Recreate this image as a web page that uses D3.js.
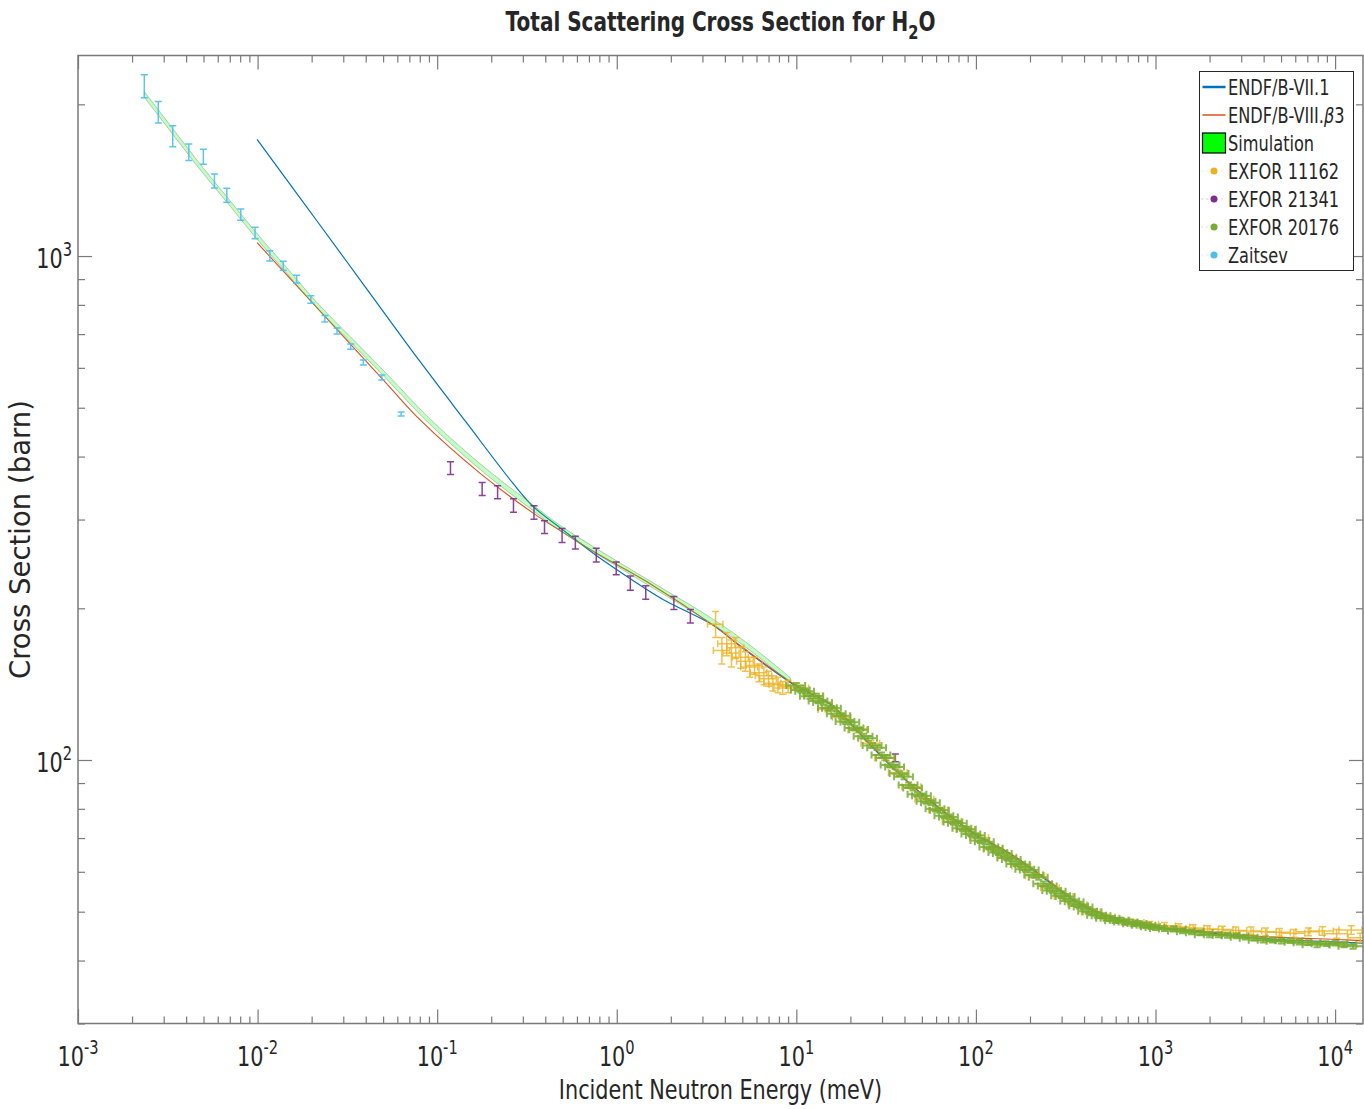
<!DOCTYPE html>
<html lang="en">
<head>
<meta charset="UTF-8">
<title>Total Scattering Cross Section for H2O</title>
<script src="https://cdnjs.cloudflare.com/ajax/libs/d3/7.8.5/d3.min.js"></script>
<style>
    body { margin: 0; background: #fff; }
    svg { display: block; }
    text { font-family: "DejaVu Sans", sans-serif; fill: #262626; }
    .frame { fill: none; stroke: #7a7a7a; stroke-width: 1.5px; }
    .tick line { stroke: #7a7a7a; stroke-width: 1.2px; }
    .domain { display: none; }
</style>
</head>
<body>
<svg id="chart" width="1364" height="1109"></svg>
<script>
// ENDF/B-VII.1 evaluation (meV, barn)
const endf71E  = [0.00993, 0.02137, 0.0406, 0.0804, 0.145, 0.266, 0.344, 0.496, 0.776, 1.19, 1.82, 3.45, 4.88, 10, 15.5, 25.8, 37.9, 59.4, 100, 156, 260, 382, 638, 1000, 1782, 3383, 10730, 14300];
const endf71XS = [1704, 1175, 860, 617, 468, 353, 318, 287, 254, 229, 208, 185, 168, 140, 129, 107, 93.3, 81.5, 71, 65, 57, 51.6, 48.1, 46.5, 45.6, 44.4, 43.5, 43.3];

// ENDF/B-VIII.beta3
const endf8E  = [0.00994, 0.0502, 0.0804, 0.1736, 0.3425, 0.495, 0.776, 1.473, 3.45, 4.88, 10, 15.5, 25.8, 37.9, 59.4, 100, 156, 260, 382, 638, 1000, 1782, 3383, 10730, 14300];
const endf8XS = [1063, 567.5, 473, 370.5, 309, 283.8, 257, 225.8, 185, 168.5, 140.5, 129, 107.5, 93.5, 81.3, 71.2, 65.2, 57.3, 51.8, 48.3, 46.7, 45.8, 44.8, 44.0, 43.8];

// simulation band
const simE    = [0.00234, 0.0030, 0.0040, 0.00478, 0.0070, 0.00968, 0.0150, 0.02137, 0.035, 0.05355, 0.0891, 0.1736, 0.344, 0.495, 0.96, 1.82, 3.46, 5.54, 9.26];
const simLow  = [2066, 1841, 1611, 1485, 1258, 1092, 912, 789, 660, 565, 467, 377, 312, 283.5, 244.5, 213.2, 185.5, 164.8, 142.3];
const simHigh = [2120, 1889, 1653, 1523, 1290, 1120, 936, 809, 676, 579, 479, 387, 320, 290.5, 250.5, 218.4, 190.1, 168.8, 145.7];

// EXFOR 11162
const exfor11162E   = [3.55, 3.85, 4.10, 4.35, 4.60, 4.90, 5.20, 5.50, 5.85, 6.20, 6.60, 7.00, 7.40, 7.90, 8.40, 9.00,
    10.5, 12.5, 15, 18, 22, 26, 31, 37, 44, 52, 62, 74, 88, 105, 125, 150, 180, 215, 260, 310,
    370, 440, 530, 640, 770, 930, 1120, 1350, 1620, 1950, 2350, 2800, 3400, 4100, 4900, 5900, 7100, 8500, 10200, 12300, 13800];
const exfor11162XS  = [186, 165, 170, 163, 167, 160, 157, 153, 154, 149, 147, 145, 142, 141, 139, 140,
    139, 134, 126, 121.5, 114.5, 108, 101, 94.5, 88.5, 83.6, 79.6, 75.6, 72.8, 70.1, 66.5, 64.2, 61.6, 58.9, 55.8, 53.6,
    51.6, 49.9, 48.8, 48.1, 47.6, 47.2, 46.9, 46.6, 46.4, 46.2, 46.1, 45.9, 45.8, 45.6, 45.5, 45.3, 45.6, 45.8, 45.2, 46.0, 44.4];
const exfor11162dE  = [0.35, 0.4, 0.45, 0.45, 0.5, 0.5, 0.55, 0.6, 0.6, 0.65, 0.7, 0.75, 0.8, 0.85, 0.9, 1.0,
    1.2, 1.5, 1.8, 2.1, 2.6, 3.1, 3.7, 4.4, 5.3, 6.2, 7.4, 8.9, 10.5, 12.6, 15, 18, 21.6, 26, 31, 37,
    44, 53, 64, 77, 92, 110, 170, 200, 240, 290, 350, 420, 500, 600, 730, 880, 1050, 1270, 1500, 1800, 2000];
const exfor11162dXS = [11, 10, 9, 10, 8, 8, 7, 7, 6, 6, 6, 5, 5, 5, 4, 4,
    1.5, 1.5, 1.4, 1.3, 1.2, 1.2, 1.1, 1.0, 1.0, 0.9, 0.9, 0.8, 0.8, 0.8, 0.7, 0.7, 0.7, 0.6, 0.6, 0.6,
    0.6, 0.6, 0.6, 0.6, 0.6, 0.6, 0.7, 0.7, 0.7, 0.7, 0.7, 0.7, 0.8, 0.8, 0.8, 0.8, 0.8, 0.9, 0.9, 0.9, 0.9];

// EXFOR 21341
const exfor21341E   = [0.1186, 0.178, 0.217, 0.266, 0.346, 0.396, 0.496, 0.588, 0.769, 0.993, 1.19, 1.45, 2.08, 2.57, 35.6];
const exfor21341XS  = [379.6, 345, 340, 320, 310, 290, 279, 270, 255, 240, 224.5, 215, 205, 193, 101];
const exfor21341dXS = [11, 10.3, 10, 10, 9.7, 8.4, 9, 7.8, 8, 7, 7.2, 6.6, 6, 6, 1.8];

// EXFOR 20176 (dense set; bar widths read as a fraction of the value)
const exfor20176E  = [10.0, 10.6, 11.2, 11.9, 12.6, 13.3, 14.1, 15.0, 15.8, 16.8,
    17.8, 18.8, 20.0, 21.1, 22.4, 23.7, 25.1, 26.6, 28.2, 29.8,
    31.6, 33.5, 35.5, 37.6, 39.8, 42.2, 44.7, 47.3, 50.1, 53.1,
    56.2, 59.6, 63.1, 66.8, 70.8, 75.0, 79.4, 84.1, 89.1, 94.4,
    100, 105.9, 112.2, 118.9, 125.9, 133.4, 141.3, 149.6, 158.5, 167.9,
    177.8, 188.4, 199.5, 211.3, 223.9, 237.1, 251.2, 266.1, 281.8, 298.5,
    316.2, 335.0, 354.8, 375.8, 398.1, 421.7, 446.7, 473.2, 501.2, 530.9,
    562.3, 595.7, 631.0, 668.3, 707.9, 749.9, 794.3, 841.4, 891.3, 944.1,
    1000, 1122, 1259, 1413, 1585, 1778, 1995, 2239, 2512, 2818,
    3162, 3548, 3981, 4467, 5012, 5623, 6310, 7079, 7943, 8913,
    10000, 11220, 12590];
const exfor20176XS = [140.6, 137.7, 136.9, 133.8, 133.9, 131.0, 130.1, 126.9, 126.6, 123.5,
    122.4, 119.2, 118.8, 115.7, 114.9, 111.5, 110.4, 106.9, 105.8, 102.3,
    100.9, 97.7, 96.9, 94.0, 92.6, 89.2, 88.0, 85.5, 84.9, 82.8,
    82.3, 80.0, 79.5, 77.5, 77.1, 75.3, 74.9, 73.2, 72.9, 71.3,
    70.8, 69.2, 68.8, 67.2, 66.8, 65.5, 65.2, 63.9, 63.5, 62.2,
    62.0, 60.7, 60.5, 59.1, 58.5, 56.8, 56.2, 55.1, 54.9, 53.8,
    53.6, 52.5, 52.3, 51.3, 51.1, 50.1, 50.0, 49.2, 49.1, 48.5,
    48.5, 48.0, 48.1, 47.7, 47.7, 47.3, 47.4, 47.0, 47.0, 46.7,
    46.5, 46.3, 46.2, 45.8, 45.6, 45.4, 45.0, 45.0, 44.9, 44.8,
    44.5, 44.3, 43.9, 43.9, 43.7, 43.8, 43.5, 43.4, 43.0, 43.2,
    43.3, 43.0, 42.7];
// [upper energy of range, relative energy half-width, relative cross-section error]
const exfor20176Res = [[1000, 0.12, 0.011], [20000, 0.17, 0.011]];

// Zaitsev
const zaitsevE   = [0.00234, 0.00280, 0.00337, 0.00414, 0.00499, 0.00575, 0.00674, 0.00806, 0.00968, 0.0117, 0.0139, 0.0165, 0.0198, 0.0237, 0.0277, 0.0330, 0.0388, 0.0492, 0.0630];
const zaitsevXS  = [2175, 1931, 1730, 1608, 1575, 1409, 1321, 1209, 1111, 1001, 957, 900, 820, 751, 710, 661, 615, 574, 486];
const zaitsevdXS = [115, 95, 83, 61, 54, 45, 42, 31, 29, 23, 20, 16, 14, 11, 10, 8, 7, 6.6, 4.5];

const xDecades = [-3, -2, -1, 0, 1, 2, 3, 4];
const yDecades = [2, 3];
const legendLabels = ["ENDF/B-VII.1", "ENDF/B-VIII.", "Simulation", "EXFOR 11162", "EXFOR 21341", "EXFOR 20176", "Zaitsev"];

const colors = {
    endf71: "#0072BD", endf8: "#D95319", sim: "#00FF00",
    e11162: "#EDB120", e21341: "#7E2F8E", e20176: "#77AC30", zaitsev: "#4DBEEE"
};

const squeeze = 0.77;   // exported figure text is narrower than it is tall
const plot = { left: 78, right: 1363, top: 55.5, bottom: 1023.5 };

const svg = d3.select("#chart");
const x = d3.scaleLog().domain([1e-3, 1.43e4]).range([plot.left, plot.right]);
const y = d3.scaleLog().domain([30, 2500]).range([plot.bottom, plot.top]);

svg.append("defs").append("clipPath").attr("id", "clip")
    .append("rect").attr("x", plot.left).attr("y", plot.top)
    .attr("width", plot.right - plot.left).attr("height", plot.bottom - plot.top);

const zip = (...cols) => cols[0].map((_, i) => cols.map(c => c[i]));

// ticks (inward, on all four sides)
const isMajor = v => Math.abs(Math.log10(v) - Math.round(Math.log10(v))) < 1e-9;
const xMajor = xDecades.map(p => Math.pow(10, p));
const xMinor = x.ticks().filter(v => !isMajor(v));
const yMajor = yDecades.map(p => Math.pow(10, p));
const yMinor = y.ticks().filter(v => !isMajor(v));

function axisPair(axisFn, scale, values, size, transform) {
    svg.append("g").attr("transform", transform)
        .call(axisFn(scale).tickValues(values).tickSize(size).tickFormat(""));
}
[[xMajor, 14], [xMinor, 7]].forEach(([vals, len]) => {
    axisPair(d3.axisBottom, x, vals, -len, `translate(0,${plot.bottom})`);
    axisPair(d3.axisTop, x, vals, -len, `translate(0,${plot.top})`);
});
[[yMajor, 14], [yMinor, 7]].forEach(([vals, len]) => {
    axisPair(d3.axisLeft, y, vals, -len, `translate(${plot.left},0)`);
    axisPair(d3.axisRight, y, vals, -len, `translate(${plot.right},0)`);
});

// tick labels 10^n
function powerLabel(px, py, exp, anchor) {
    const t = svg.append("text")
        .attr("transform", `translate(${px},${py}) scale(${squeeze},1)`)
        .attr("text-anchor", anchor).style("font-size", "27px");
    t.append("tspan").text("10");
    t.append("tspan").attr("dy", -12).style("font-size", "19px").text(exp);
}
xDecades.forEach(p => powerLabel(x(Math.pow(10, p)), plot.bottom + 42, p, "middle"));
yDecades.forEach(p => powerLabel(plot.left - 6, y(Math.pow(10, p)) + 12, p, "end"));

// data layer
const layer = svg.append("g").attr("clip-path", "url(#clip)");

const band = d3.area()
    .x(d => x(d[0])).y0(d => y(d[1])).y1(d => y(d[2]))
    .curve(d3.curveCatmullRom.alpha(0.5));
const line = d3.line().x(d => x(d[0])).y(d => y(d[1])).curve(d3.curveCatmullRom.alpha(0.5));

layer.append("path").datum(zip(endf71E, endf71XS))
    .attr("d", line).attr("fill", "none").attr("stroke", colors.endf71).attr("stroke-width", 1.2);
layer.append("path").datum(zip(endf8E, endf8XS))
    .attr("d", line).attr("fill", "none").attr("stroke", colors.endf8).attr("stroke-width", 1.1);
layer.append("path").datum(zip(simE, simLow, simHigh))
    .attr("d", band).attr("fill", colors.sim).attr("fill-opacity", 0.25)
    .attr("stroke", "#808080").attr("stroke-opacity", 0.45).attr("stroke-width", 1);

const cap = 3.5;
function errorBars(rows, color, width, opacity) {
    const g = layer.append("g").attr("stroke", color).attr("stroke-width", width)
        .attr("stroke-opacity", opacity).attr("fill", "none");
    const pts = g.selectAll("g").data(rows).join("g");
    // vertical
    pts.append("path").attr("d", d => {
        const px = x(d[0]), lo = y(d[1] - d[3]), hi = y(d[1] + d[3]);
        return `M${px},${lo}V${hi}M${px - cap},${lo}h${2 * cap}M${px - cap},${hi}h${2 * cap}`;
    });
    // horizontal, where an energy width is given
    pts.filter(d => d[2] > 0).append("path").attr("d", d => {
        const py = y(d[1]), l = x(d[0] - d[2]), r = x(d[0] + d[2]);
        return `M${l},${py}H${r}M${l},${py - cap}v${2 * cap}M${r},${py - cap}v${2 * cap}`;
    });
}

const res20176 = e => exfor20176Res.find(r => e <= r[0]);
const rows20176 = zip(exfor20176E, exfor20176XS).map(([e, s]) => [e, s, e * res20176(e)[1], s * res20176(e)[2]]);

errorBars(zip(exfor11162E, exfor11162XS, exfor11162dE, exfor11162dXS), colors.e11162, 1.5, 0.8);
errorBars(zip(exfor21341E, exfor21341XS, exfor21341E.map(() => 0), exfor21341dXS), colors.e21341, 1.5, 0.9);
errorBars(rows20176, colors.e20176, 2, 0.85);
errorBars(zip(zaitsevE, zaitsevXS, zaitsevE.map(() => 0), zaitsevdXS), colors.zaitsev, 1.5, 0.9);

// frame
svg.append("rect").attr("class", "frame")
    .attr("x", plot.left).attr("y", plot.top)
    .attr("width", plot.right - plot.left).attr("height", plot.bottom - plot.top);

// title and axis labels
const title = svg.append("text")
    .attr("transform", `translate(${(plot.left + plot.right) / 2},31) scale(${squeeze},1)`)
    .attr("text-anchor", "middle").style("font-size", "26px").style("font-weight", "bold");
title.append("tspan").text("Total Scattering Cross Section for H");
title.append("tspan").attr("dy", 8).style("font-size", "19px").text("2");
title.append("tspan").attr("dy", -8).text("O");

svg.append("text")
    .attr("transform", `translate(${(plot.left + plot.right) / 2},1099) scale(${squeeze},1)`)
    .attr("text-anchor", "middle").style("font-size", "27px")
    .text("Incident Neutron Energy (meV)");

svg.append("text")
    .attr("transform", `translate(30,${(plot.top + plot.bottom) / 2}) rotate(-90)`)
    .attr("text-anchor", "middle").style("font-size", "27.5px")
    .text("Cross Section (barn)");

// legend
const lg = svg.append("g");
const lgX = 1199.5, lgY = 71.5, rowH = 28;
lg.append("rect").attr("x", lgX).attr("y", lgY).attr("width", 154).attr("height", 199)
    .attr("fill", "#fff").attr("stroke", "#262626").attr("stroke-width", 1);

const legendKeys = ["endf71", "endf8", "sim", "e11162", "e21341", "e20176", "zaitsev"];
legendLabels.forEach((label, i) => {
    const cy = lgY + 15.5 + i * rowH;
    const key = legendKeys[i];
    if (i === 0 || i === 1) {
        lg.append("line").attr("x1", lgX + 3).attr("x2", lgX + 26).attr("y1", cy).attr("y2", cy)
            .attr("stroke", colors[key]).attr("stroke-width", i === 0 ? 2.5 : 1.5);
    } else if (i === 2) {
        lg.append("rect").attr("x", lgX + 3).attr("y", cy - 10).attr("width", 23).attr("height", 20)
            .attr("fill", colors.sim).attr("stroke", "#000").attr("stroke-width", 1.2);
    } else {
        lg.append("line").attr("x1", lgX + 2).attr("x2", lgX + 27).attr("y1", cy).attr("y2", cy)
            .attr("stroke", colors[key]).attr("stroke-width", 0.8).attr("stroke-dasharray", "1,4")
            .attr("stroke-opacity", 0.6);
        lg.append("circle").attr("cx", lgX + 14.5).attr("cy", cy).attr("r", 3.5).attr("fill", colors[key]);
    }
    const t = lg.append("text")
        .attr("transform", `translate(${lgX + 28.5},${cy + 8}) scale(${squeeze},1)`)
        .style("font-size", "21px").text(label);
    if (i === 1) {
        t.append("tspan").style("font-style", "italic").text("β");
        t.append("tspan").text("3");
    }
});
</script>
</body>
</html>
